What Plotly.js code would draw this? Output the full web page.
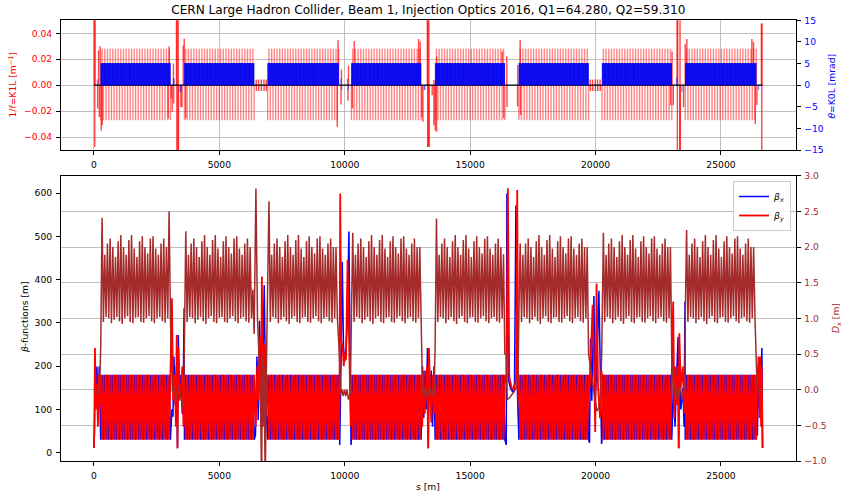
<!DOCTYPE html>
<html>
<head>
<meta charset="utf-8">
<script src="https://cdn.plot.ly/plotly-3.0.1.min.js"></script>
<style>
  html, body { margin: 0; padding: 0; background: #ffffff; }
  #chart { width: 847px; height: 493px; }
</style>
</head>
<body>
<div id="chart"></div>
<script>
// ---------------- LHC beam 1, injection optics 2016 ----------------
const ringLength = 26658.883;

// Arcs: first and last regular cell position of each arc [m]
const arcFrom = [271, 3609, 6926, 10266, 13604, 16942, 20259, 23576];
const arcTo   = [3070, 6411, 9770, 13065, 16427, 19745, 23082, 26419];
const halfCell = 53.45;                     // quadrupole spacing in the arcs [m]
const dipoleOffsets = [10.5, 26.7, 42.9];   // main dipoles inside each half cell [m]
const dipoleAngle = 5.1;                    // K0L of an arc dipole [mrad]
const kFocus = 0.0280, kDefocus = -0.0270;  // arc quadrupole K1L [1/m]
const betaPeak = 180, betaValley = 30;      // arc beta at the quadrupoles [m]

// Arc dispersion at focusing (peak) and defocusing (trough) quadrupoles [m]
const dxPeak = [2.10, 1.89, 2.05, 2.12, 2.00, 1.86, 2.08, 2.17, 2.00, 1.89, 2.10, 2.17, 1.98, 1.86,
                2.08, 2.15, 2.00, 1.91, 2.12, 2.15, 1.98, 1.89, 2.05, 2.12, 2.00, 1.90, 2.08, 2.10];
const dxTrough = [1.00, 0.95, 1.02, 1.00, 0.93, 0.98, 1.02, 0.96, 0.92, 1.00, 1.03, 0.95, 0.93, 1.01,
                  1.02, 0.95, 0.94, 1.00, 1.03, 0.96, 0.93, 1.00, 1.02, 0.96, 0.94, 1.00, 1.02, 0.98];
// Dispersion suppressor values at both ends of each arc [m]
const dxEntry     = [0.60, 0.80, 1.60, 1.00, 0.60, 1.00, 1.00, 1.00];
const dxFirstPeak = [2.41, 2.22, 2.64, 2.20, 2.40, 2.05, 2.20, 2.24];
const dxLastPeak  = [2.50, 1.40, 2.00, 2.00, 1.90, 2.00, 2.00, 2.00];
const dxExit      = [1.00, 0.78, 0.70, 1.00, 0.50, 0.50, 0.50, 0.50];

// Insertions, in ring order: IR1 (start), IR2 ... IR8, IR1 (end). Pairs are [s, value].
const irBetaX = [
  [[0,11],[20,45],[45,200],[80,150],[120,199],[160,76],[210,199],[250,40]],
  [[3110,100],[3150,83],[3189,222],[3240,110],[3290,200],[3332,10],[3361,272],[3410,130],[3470,180],[3520,90],[3560,150],[3595,334]],
  [[6440,40],[6498,222],[6550,75],[6604,305],[6660,60],[6720,150],[6790,387],[6850,110],[6900,37]],
  [[9800,18],[9850,200],[9900,441],[9950,245],[10000,210],[10050,240],[10100,300],[10166,511],[10220,100],[10250,18]],
  [[13100,200],[13150,80],[13200,190],[13250,100],[13300,242],[13329,10],[13360,200],[13400,120],[13450,190],[13500,60],[13560,200]],
  [[16440,18],[16465,599],[16531,168],[16600,150],[16700,140],[16770,160],[16824,571],[16880,150],[16920,60]],
  [[19760,23],[19801,264],[19850,120],[19934,362],[19980,120],[20040,180],[20133,374],[20200,150],[20240,20]],
  [[23100,150],[23170,60],[23240,190],[23290,268],[23315,10],[23345,200],[23400,100],[23481,150],[23530,60],[23565,349]],
  [[26450,40],[26500,180],[26550,90],[26600,150],[26632,242],[26658.9,11]]
];
const irBetaY = [
  [[0,11],[20,70],[40,242],[80,100],[120,160],[160,60],[200,180],[245,110]],
  [[3109,357],[3160,120],[3220,180],[3270,60],[3300,272],[3332,10],[3370,245],[3420,120],[3480,150],[3522,199],[3570,60]],
  [[6450,60],[6510,200],[6560,120],[6620,268],[6660,100],[6697,407],[6740,60],[6800,250],[6860,90],[6905,150]],
  [[9790,120],[9820,599],[9860,260],[9920,240],[9960,200],[10000,230],[10050,215],[10113,445],[10160,300],[10200,150],[10240,60]],
  [[13090,60],[13140,190],[13190,90],[13240,150],[13280,200],[13329,10],[13358,242],[13400,150],[13450,70],[13510,180],[13570,90]],
  [[16450,160],[16505,611],[16560,176],[16650,150],[16750,145],[16830,170],[16877,607],[16920,120]],
  [[19770,150],[19881,342],[19940,200],[19987,48],[20040,391],[20100,150],[20180,80],[20230,190]],
  [[23095,349],[23140,80],[23190,199],[23250,110],[23290,200],[23315,10],[23340,276],[23400,150],[23481,199],[23540,90]],
  [[26440,150],[26499,222],[26540,80],[26565,222],[26600,60],[26625,200],[26658.9,11]]
];
const irDx = [
  [[0,0.0],[60,-0.04],[120,-0.06],[180,-0.03],[240,0.2]],
  [[3090,0.6],[3130,-0.03],[3180,0.05],[3230,-0.02],[3280,-0.14],[3330,-0.05],[3380,0.05],[3440,-0.05],[3500,-0.15],[3560,-0.24],[3595,0.3]],
  [[6458,2.82],[6520,1.0],[6590,0.2],[6640,-0.05],[6684,-1.3],[6724,0.5],[6780,0.3],[6830,-1.3],[6880,0.4]],
  [[9800,0.4],[9840,-0.07],[9890,0.0],[9940,-0.09],[9990,0.0],[10040,-0.09],[10090,0.0],[10150,-0.14],[10220,-0.05]],
  [[13100,0.0],[13150,-0.1],[13200,0.05],[13250,-0.1],[13300,0.0],[13350,-0.05],[13400,0.05],[13450,-0.1],[13500,0.0],[13560,-0.1]],
  [[16440,0.5],[16480,-0.14],[16550,-0.12],[16650,-0.08],[16750,-0.03],[16864,0.05],[16910,0.25]],
  [[19780,0.35],[19850,0.2],[19920,0.0],[19980,-0.15],[20050,-0.3],[20133,-0.25],[20200,-0.05],[20245,0.5]],
  [[23100,-0.05],[23150,0.1],[23200,-0.14],[23260,0.05],[23320,-0.1],[23380,0.05],[23440,-0.14],[23500,0.0],[23560,0.0]],
  [[26440,0.05],[26500,-0.05],[26580,0.0],[26658.9,0.0]]
];
// Insertion and dispersion-suppressor quadrupoles [s, K1L]
const irQuads = [
  [[18,0.065],[32,-0.0476],[48,0.065],[150,-0.018],[185,0.027],[215,-0.0245],[250,0.03],[291,-0.035],[331,-0.031]],
  [[2960,-0.0257],[3000,0.03],[3082,-0.0103],[3120,-0.0206],[3170,0.0167],[3180,-0.0141],[3292,0.065],[3305,-0.065],[3318,0.065],
   [3346,-0.065],[3360,0.065],[3372,-0.065],[3468,-0.0168],[3510,-0.017],[3560,0.0305],[3601,0.036],[3660,-0.0257]],
  [[6471,0.0044],[6479,-0.0046],[6563,0.0044],[6571,-0.0046],[6670,0.0044],[6678,-0.0046],[6778,0.0044],[6786,-0.0046],[6870,0.0044],[6878,-0.0046]],
  [[9700,-0.032],[9734,0.0347],[9850,-0.015],[9870,0.012],[10130,-0.012],[10150,0.015],[10300,-0.018],[10380,0.034]],
  [[12943,0.0355],[13010,0.0334],[13076,-0.0245],[13116,-0.0283],[13292,0.065],[13305,-0.0476],[13318,0.065],[13340,-0.0476],[13354,0.065],
   [13368,-0.0476],[13488,-0.0077],[13555,-0.031],[13560,0.004],[13608,-0.035],[13661,-0.036],[13665,0.022]],
  [[16280,0.026],[16340,-0.0255],[16460,0.022],[16470,-0.0168],[16890,-0.0165],[16900,0.0155],[16995,0.0348],[17005,-0.023]],
  [[19787,0.0044],[19795,-0.0046],[19880,0.0044],[19888,-0.0046],[19987,0.0044],[19995,-0.0046],[20079,0.0044],[20087,-0.0046],[20179,0.0044],[20187,-0.0046]],
  [[22990,-0.0155],[23050,0.026],[23100,-0.0155],[23250,0.065],[23262,-0.065],[23275,0.065],[23355,-0.065],[23368,0.065],[23380,-0.065],
   [23508,-0.0168],[23575,0.032],[23642,0.0355]],
  [[26233,0.0355],[26300,0.0334],[26366,-0.030],[26433,-0.0155],[26612,0.0476],[26626,-0.065],[26640,0.0476]]
];
// Separation / recombination dipoles [s, K0L in mrad]
const irDipoles = [
  [[135,1.3]],
  [[3174,1.55],[3190,1.55],[3440,-1.55],[3465,-1.55]],
  [],
  [[9850,1.5],[9880,-1.15],[10110,1.5],[10140,-1.15]],
  [[13170,-1.15],[13200,-1.15]],
  [],
  [],
  [[23230,1.7],[23442,-1.55]],
  [[26500,-1.15]]
];

// ---------------- assemble the lattice functions ----------------
function arcQuadPositions(i) {
  const out = [];
  for (let s = arcFrom[i]; s <= arcTo[i] + 1e-6; s += halfCell) out.push(s);
  return out;
}

const sBeta = [], betaX = [], betaY = [];
const sDisp = [], dispX = [];
const quadBars = [], dipoleBars = [];

for (let seg = 0; seg < irBetaX.length; seg++) {
  irBetaX[seg].forEach(p => { sBeta.push(p[0]); betaX.push(p[1]); betaY.push(null); });
  irBetaY[seg].forEach(p => { sBeta.push(p[0]); betaX.push(null); betaY.push(p[1]); });
  irDx[seg].forEach(p => { sDisp.push(p[0]); dispX.push(p[1]); });
  if (seg < arcFrom.length) {
    const qs = arcQuadPositions(seg);
    const last = qs.length - 1;
    const lastQF = (last % 2 === 1) ? last - 2 : last - 1;
    qs.forEach((s, n) => {
      const focusing = (n % 2 === 1);
      sBeta.push(s);
      betaX.push(focusing ? betaPeak : betaValley);
      betaY.push(focusing ? betaValley : betaPeak);
      let d;
      if (n === 0) d = dxEntry[seg];
      else if (n === last) d = dxExit[seg];
      else if (n === 1) d = dxFirstPeak[seg];
      else if (n === lastQF) d = dxLastPeak[seg];
      else d = focusing ? dxPeak[(n - 1) / 2] : dxTrough[n / 2];
      sDisp.push(s); dispX.push(d);
      quadBars.push([s, focusing ? kFocus : kDefocus]);
      if (n < last) dipoleOffsets.forEach(o => dipoleBars.push([s + o, dipoleAngle]));
    });
  }
}

// beta lines: split the merged lists per plane, keep ring order
function plane(values) {
  const pts = [];
  sBeta.forEach((s, k) => { if (values[k] !== null) pts.push([s, values[k]]); });
  pts.sort((a, b) => a[0] - b[0]);
  return { x: pts.map(p => p[0]), y: pts.map(p => p[1]) };
}
const bxLine = plane(betaX), byLine = plane(betaY);
const dxOrder = sDisp.map((s, k) => [s, dispX[k]]).sort((a, b) => a[0] - b[0]);

function bars(list) {
  const x = [], y = [];
  list.forEach(p => { x.push(p[0], p[0], null); y.push(0, p[1], null); });
  return { x, y };
}
const arcQ = bars(quadBars);
const insQ = bars([].concat(...irQuads));
const arcB = bars(dipoleBars);
const sepB = bars([].concat(...irDipoles));

const FONT = 'DejaVu Sans';
const BROWN = '#a52a2a';
const W = 847, H = 493;
const px = v => v / W, py = v => 1 - v / H;

const traces = [
  { x: arcQ.x, y: arcQ.y, xaxis: 'x', yaxis: 'y', mode: 'lines', line: { color: 'rgba(255,0,0,0.48)', width: 1.4 }, showlegend: false, hoverinfo: 'skip' },
  { x: insQ.x, y: insQ.y, xaxis: 'x', yaxis: 'y', mode: 'lines', line: { color: 'rgba(255,0,0,0.72)', width: 1.4 }, showlegend: false, hoverinfo: 'skip' },
  { x: [0, ringLength], y: [0, 0], xaxis: 'x', yaxis: 'y', mode: 'lines', line: { color: '#000000', width: 1.2 }, showlegend: false, hoverinfo: 'skip' },
  { x: arcB.x, y: arcB.y, xaxis: 'x', yaxis: 'y2', mode: 'lines', line: { color: 'rgba(10,10,240,0.95)', width: 1 }, showlegend: false, hoverinfo: 'skip' },
  { x: sepB.x, y: sepB.y, xaxis: 'x', yaxis: 'y2', mode: 'lines', line: { color: 'rgba(0,0,255,0.5)', width: 1.2 }, showlegend: false, hoverinfo: 'skip' },
  { x: bxLine.x, y: bxLine.y, xaxis: 'x2', yaxis: 'y3', mode: 'lines', name: '<i>β<sub>x</sub></i>', line: { color: '#0000ff', width: 1.5 } },
  { x: byLine.x, y: byLine.y, xaxis: 'x2', yaxis: 'y3', mode: 'lines', name: '<i>β<sub>y</sub></i>', line: { color: '#ff0000', width: 1.8 } },
  { x: dxOrder.map(p => p[0]), y: dxOrder.map(p => p[1]), xaxis: 'x2', yaxis: 'y4', mode: 'lines', line: { color: BROWN, width: 1.5 }, showlegend: false }
];

const xRange = [-1333, 27992];
const tick = { family: FONT, size: 9.2, color: '#000000' };
const common = { showline: true, linecolor: '#000000', linewidth: 1, ticks: 'outside', ticklen: 3.5, tickcolor: '#000000',
  zeroline: false, ticklabelstandoff: 2 };
const xDom = [px(60.5), px(796)];

const layout = {
  width: W, height: H,
  margin: { l: 0, r: 0, t: 0, b: 0 },
  paper_bgcolor: '#ffffff', plot_bgcolor: '#ffffff',
  font: { family: FONT, size: 9.2, color: '#000000' },
  title: { text: 'CERN Large Hadron Collider, Beam 1, Injection Optics 2016, Q1=64.280, Q2=59.310',
           x: px(428.3), xanchor: 'center', y: py(10), yanchor: 'middle', font: { family: FONT, size: 12.1, color: '#000000' } },
  xaxis: Object.assign({}, common, { domain: xDom, anchor: 'y', range: xRange, dtick: 5000, tick0: 0, tickformat: 'd',
    mirror: true, showgrid: true, gridcolor: '#b0b0b0', gridwidth: 0.8, tickfont: tick }),
  yaxis: Object.assign({}, common, { domain: [py(150), py(20.3)], anchor: 'x', range: [-0.05, 0.05], dtick: 0.02, tick0: 0,
    tickformat: '.2f', showgrid: true, gridcolor: '#b0b0b0', gridwidth: 0.8, tickfont: Object.assign({}, tick, { color: '#ff0000' }) }),
  yaxis2: Object.assign({}, common, { overlaying: 'y', side: 'right', anchor: 'x', range: [-15, 15], dtick: 5, tick0: 0,
    showgrid: false, tickfont: Object.assign({}, tick, { color: '#0000ff' }) }),
  xaxis2: Object.assign({}, common, { domain: xDom, anchor: 'y3', range: xRange, dtick: 5000, tick0: 0, tickformat: 'd',
    mirror: true, showgrid: false, tickfont: tick }),
  yaxis3: Object.assign({}, common, { domain: [py(461), py(175.7)], anchor: 'x2', range: [-19.2, 640], dtick: 100, tick0: 0,
    showgrid: false, tickfont: tick }),
  yaxis4: Object.assign({}, common, { overlaying: 'y3', side: 'right', anchor: 'x2', range: [-1, 3], dtick: 0.5, tick0: 0,
    tickformat: '.1f', showgrid: true, gridcolor: '#b0b0b0', gridwidth: 0.8, tickfont: Object.assign({}, tick, { color: BROWN }) }),
  legend: { x: px(791), xanchor: 'right', y: py(181), yanchor: 'top', bgcolor: 'rgba(255,255,255,0.85)',
    bordercolor: '#cccccc', borderwidth: 1, font: { family: FONT, size: 9.2, color: '#000000' }, itemwidth: 30, tracegroupgap: 0 },
  annotations: [
    { text: '1/f=K1L [m<sup>−1</sup>]', xref: 'paper', yref: 'paper', x: px(12.5), y: py(85), textangle: -90,
      showarrow: false, xanchor: 'center', yanchor: 'middle', font: { family: FONT, size: 9.2, color: '#ff0000' } },
    { text: '<i>θ</i>=K0L [mrad]', xref: 'paper', yref: 'paper', x: px(831.5), y: py(86), textangle: -90,
      showarrow: false, xanchor: 'center', yanchor: 'middle', font: { family: FONT, size: 9.2, color: '#0000ff' } },
    { text: '<i>β</i>-functions [m]', xref: 'paper', yref: 'paper', x: px(24), y: py(317), textangle: -90,
      showarrow: false, xanchor: 'center', yanchor: 'middle', font: { family: FONT, size: 9.2, color: '#000000' } },
    { text: '<i>D<sub>x</sub></i> [m]', xref: 'paper', yref: 'paper', x: px(836), y: py(318), textangle: -90,
      showarrow: false, xanchor: 'center', yanchor: 'middle', font: { family: FONT, size: 9.2, color: BROWN } },
    { text: 's [m]', xref: 'paper', yref: 'paper', x: px(428.3), y: py(486), showarrow: false,
      xanchor: 'center', yanchor: 'middle', font: { family: FONT, size: 9.2, color: '#000000' } }
  ]
};

Plotly.newPlot('chart', traces, layout, { displayModeBar: false, staticPlot: true });
</script>
</body>
</html>
